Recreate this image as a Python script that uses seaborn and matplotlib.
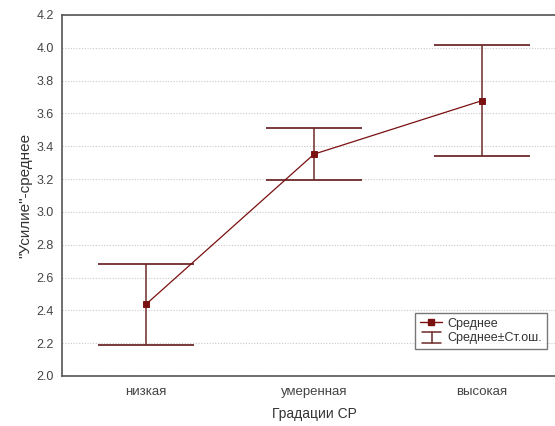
import matplotlib
matplotlib.use("Agg")
import matplotlib.pyplot as plt
import seaborn as sns
import pandas as pd
import numpy as np
from matplotlib.lines import Line2D
from matplotlib.legend_handler import HandlerBase

categories = ["низкая", "умеренная", "высокая"]
means = [2.437, 3.352, 3.678]
std_err = [0.247, 0.16, 0.337]
y_ticks = [2.0, 2.2, 2.4, 2.6, 2.8, 3.0, 3.2, 3.4, 3.6, 3.8, 4.0, 4.2]

sns.set_style("white")
plt.rcParams["font.family"] = ["Liberation Sans", "DejaVu Sans"]

df = pd.DataFrame({"cat": categories, "mean": means, "se": std_err})

fig = plt.figure(figsize=(5.55, 4.26), dpi=100)
ax = fig.add_axes([62/555, 1 - 376/426, (566 - 62)/555, (376 - 15)/426])

line_color = "#7a1010"
err_color = "#6e2a2a"

ax.errorbar(np.arange(len(categories)), df["mean"], yerr=df["se"], fmt="none",
            ecolor=err_color, elinewidth=1.1, capsize=34.5, capthick=1.3, zorder=2)
sns.pointplot(data=df, x="cat", y="mean", ax=ax, color=line_color, markers="s",
              linestyles="-", errorbar=None, markersize=5, linewidth=0.9, zorder=3)

ax.set_xlim(-0.5, 2.5)
ax.set_ylim(2.0, 4.2)
ax.set_yticks(y_ticks)
ax.set_yticklabels([f"{v:.1f}" for v in y_ticks])
ax.yaxis.grid(True, linestyle=(0, (1, 1.5)), color="#c8c8c8", linewidth=0.8)
ax.xaxis.grid(False)
ax.set_axisbelow(True)

for s in ["left", "top", "bottom"]:
    ax.spines[s].set_color("#555555")
    ax.spines[s].set_linewidth(1.2)
ax.spines["right"].set_visible(False)

ax.tick_params(axis="y", labelsize=9, colors="#444444", length=2, direction="out",
               color="#888888", pad=4)
ax.tick_params(axis="x", labelsize=9.5, colors="#444444", length=3, direction="in",
               color="#777777", pad=7)
ax.set_xlabel("Градации СР", fontsize=10, color="#333333", labelpad=7)
ax.set_ylabel('"Усилие"-среднее', fontsize=11, color="#333333", labelpad=3)


class HandlerIBar(HandlerBase):
    def create_artists(self, legend, orig_handle, xdescent, ydescent,
                       width, height, fontsize, trans):
        x0, x1 = -xdescent + width * 0.1, -xdescent + width * 0.95
        cx = (x0 + x1) / 2
        ytop = -ydescent + height * 1.05
        ybot = -ydescent - height * 0.2
        kw = dict(color=err_color, linewidth=1.1, transform=trans)
        return [Line2D([x0, x1], [ytop, ytop], **kw),
                Line2D([x0, x1], [ybot, ybot], **kw),
                Line2D([cx, cx], [ybot, ytop], **kw)]


h1 = Line2D([0], [0], color=line_color, marker="s", markersize=5, linewidth=1)
h2 = object()
leg = ax.legend([h1, h2], ["Среднее", "Среднее±Ст.ош."], loc="lower right",
                bbox_to_anchor=((547 - 62) / (566 - 62), (376 - 349) / (376 - 15)),
                fontsize=9, frameon=True, fancybox=False, edgecolor="#555555",
                borderpad=0.4, handlelength=1.8, labelspacing=0.2,
                handletextpad=0.4, borderaxespad=0,
                handler_map={object: HandlerIBar()})
leg.get_frame().set_linewidth(1.0)
for t in leg.get_texts():
    t.set_color("#333333")

fig.savefig("out.png", dpi=100)
